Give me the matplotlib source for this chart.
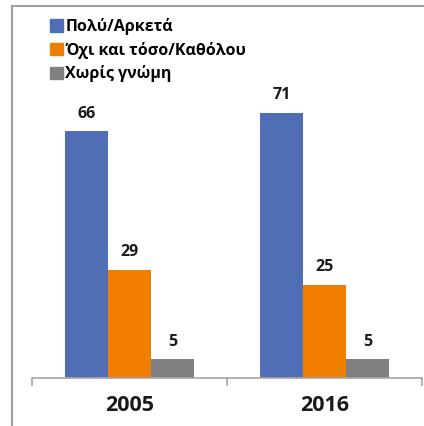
import matplotlib
matplotlib.use("Agg")
import matplotlib.pyplot as plt
from matplotlib.lines import Line2D
import numpy as np

years = ["2005", "2016"]
series_names = ["Πολύ/Αρκετά", "Όχι και τόσο/Καθόλου", "Χωρίς γνώμη"]
values = [
    [66, 71],
    [29, 25],
    [5, 5],
]
colors = ["#4F6EB6", "#F07F00", "#808080"]

plt.rcParams['font.family'] = ['Open Sans', 'DejaVu Sans']

fig = plt.figure(figsize=(4.24, 4.26), dpi=100)
W, H = 424, 426
ax = fig.add_axes([32 / W, (H - 378) / H, (422 - 32) / W, (378 - 79) / H])

x = np.arange(len(years))
bw = 0.22
for i, (name, vals, c) in enumerate(zip(series_names, values, colors)):
    pos = x + (i - 1) * bw
    ax.bar(pos, vals, width=bw, color=c, label=name, zorder=2)
    for p, v in zip(pos, vals):
        ax.annotate(str(v), (p, v), xytext=(0, 7), textcoords="offset points",
                    ha="center", va="bottom", fontsize=11.5, fontweight="bold",
                    color="#1a1a1a")

ax.set_xlim(-0.5, 1.5)
ax.set_ylim(0, 80)
ax.set_yticks([])
for s in ["top", "right", "left"]:
    ax.spines[s].set_visible(False)
ax.spines["bottom"].set_color("#a6a6a6")
ax.spines["bottom"].set_linewidth(1.2)
ax.set_xticks([-0.5, 0.5, 1.5], minor=False)
ax.set_xticklabels([])
ax.tick_params(axis="x", length=6, color="#a6a6a6", width=1.2)
ax.set_xticks(x, minor=True)
ax.set_xticklabels(years, minor=True, fontsize=15.5, fontweight="bold", color="#1a1a1a")
ax.tick_params(axis="x", which="minor", length=0, pad=12)

handles = [plt.Rectangle((0, 0), 1, 1, color=c) for c in colors]
leg = fig.legend(handles, series_names, loc="upper left",
                 bbox_to_anchor=(50 / W, 1 - 18 / H), frameon=False,
                 prop={"weight": "bold", "size": 11.5}, handlelength=0.8,
                 handleheight=0.8, handletextpad=0.15, labelspacing=0.42,
                 borderaxespad=0, borderpad=0)

# outer frame lines (top and left)
fig.add_artist(Line2D([12 / W, 1], [1 - 6 / H, 1 - 6 / H], color="#a0a0a0", lw=1.5,
                      transform=fig.transFigure))
fig.add_artist(Line2D([12 / W, 12 / W], [0, 1 - 6 / H], color="#a0a0a0", lw=1.5,
                      transform=fig.transFigure))

fig.savefig("out.png", dpi=100)
